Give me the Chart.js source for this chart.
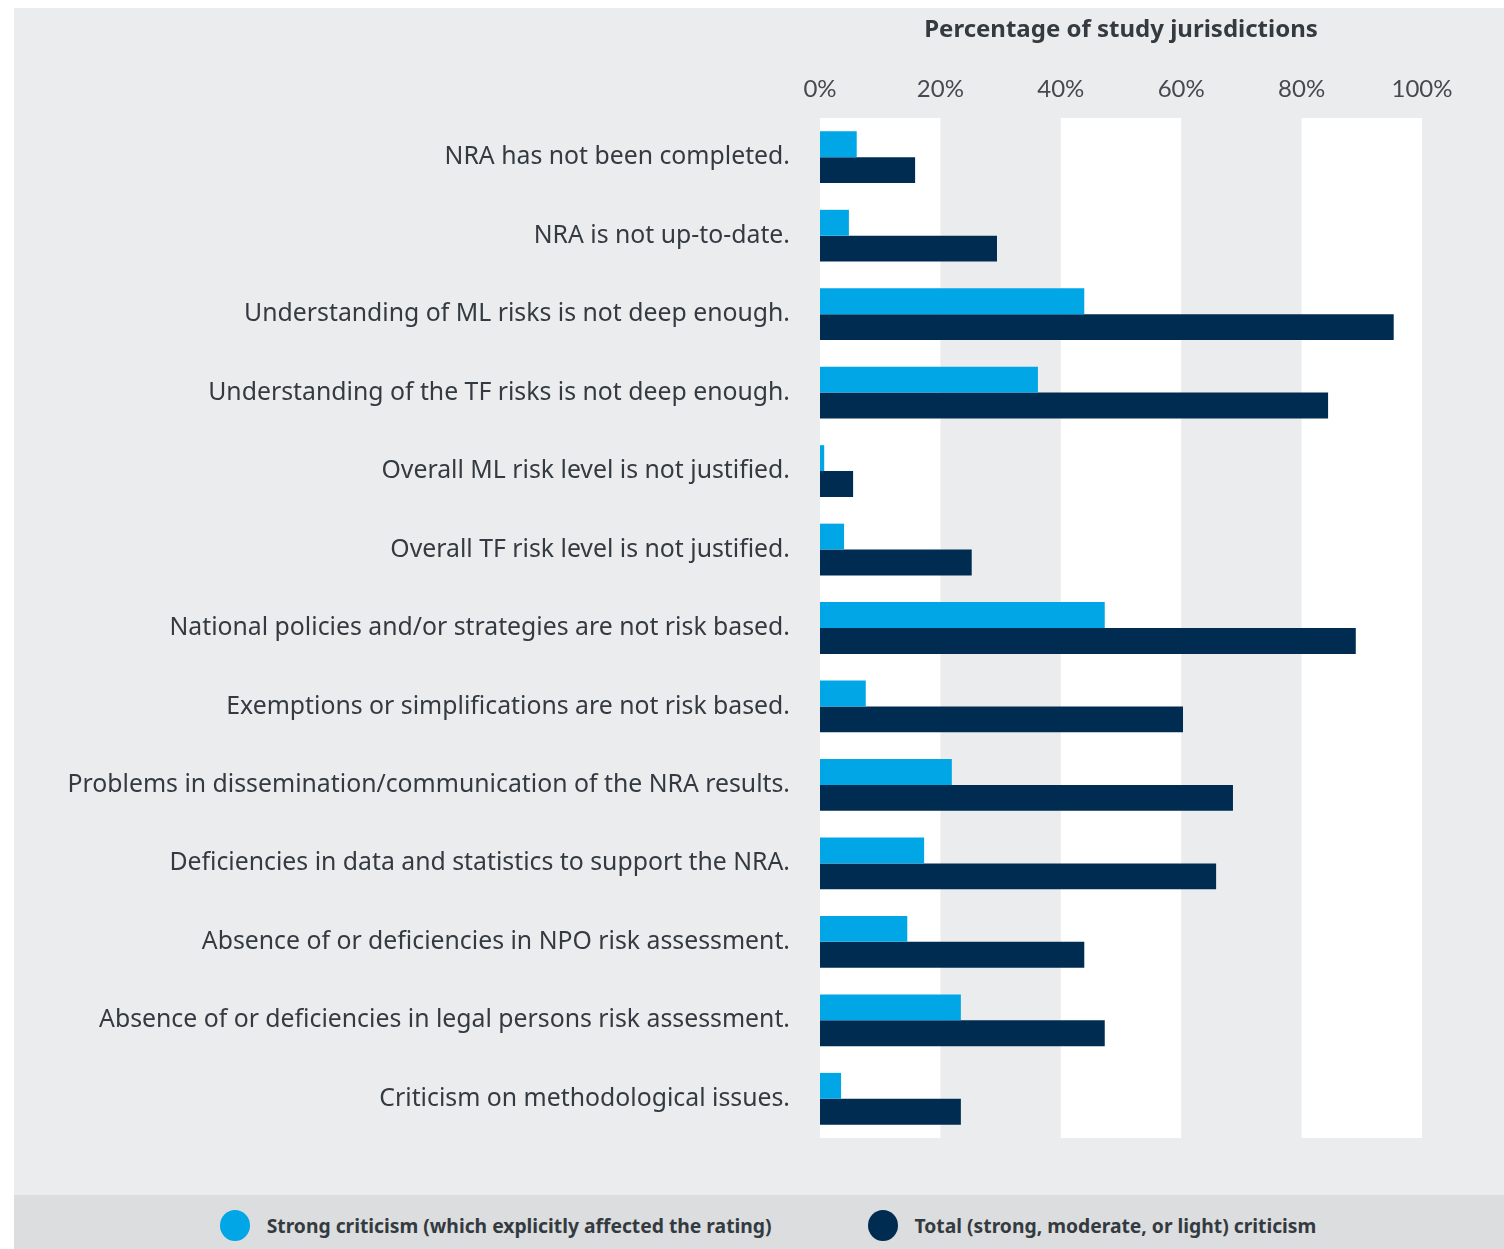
<!DOCTYPE html>
<html>
<head>
<meta charset="utf-8">
<script src="https://cdn.jsdelivr.net/npm/chart.js@4/dist/chart.umd.min.js"></script>
<style>
  html, body { margin: 0; padding: 0; background: #fff; }
  #wrap {
    position: absolute; left: 14px; top: 8px;
    width: 1490px; height: 1241px;
    background: #ebecee;
  }
  #box { position: relative; width: 1490px; height: 1187px; }
  #legend {
    position: absolute; left: 0; top: 1187px;
    width: 1490px; height: 54px; box-sizing: border-box; padding: 7px 0 0 18px;
    background: #dcdddf;
    display: flex; justify-content: center; align-items: center; gap: 96px;
    font-family: "Noto Sans", sans-serif; font-weight: 700; font-size: 19.3px;
    color: #333a40;
  }
  #legend span { display: flex; align-items: center; }
  #legend i {
    display: inline-block; width: 30px; height: 31px; border-radius: 50%;
    margin-right: 17px;
  }
</style>
</head>
<body>
<div id="wrap">
  <div id="box"><canvas id="chart"></canvas></div>
  <div id="legend"></div>
</div>
<script>
const categories = [
  'NRA has not been completed.',
  'NRA is not up-to-date.',
  'Understanding of ML risks is not deep enough.',
  'Understanding of the TF risks is not deep enough.',
  'Overall ML risk level is not justified.',
  'Overall TF risk level is not justified.',
  'National policies and/or strategies are not risk based.',
  'Exemptions or simplifications are not risk based.',
  'Problems in dissemination/communication of the NRA results.',
  'Deficiencies in data and statistics to support the NRA.',
  'Absence of or deficiencies in NPO risk assessment.',
  'Absence of or deficiencies in legal persons risk assessment.',
  'Criticism on methodological issues.'
];
const strongCriticism = [6.1, 4.8, 43.9, 36.2, 0.7, 4.0, 47.3, 7.6, 21.9, 17.3, 14.5, 23.4, 3.5];
const totalCriticism = [15.8, 29.4, 95.3, 84.4, 5.5, 25.2, 89.0, 60.3, 68.6, 65.8, 43.9, 47.3, 23.4];
const xTicks = [0, 20, 40, 60, 80, 100];
const seriesNames = ['Strong criticism (which explicitly affected the rating)', 'Total (strong, moderate, or light) criticism'];
const seriesColors = ['#00a6e6', '#002c51'];

// white columns behind every other 20% step
const bandPlugin = {
  id: 'bands',
  beforeDatasetsDraw(chart) {
    const { ctx, chartArea, scales } = chart;
    ctx.save();
    ctx.fillStyle = '#ffffff';
    for (let i = 0; i < xTicks.length - 1; i += 2) {
      const x0 = scales.x.getPixelForValue(xTicks[i]);
      const x1 = scales.x.getPixelForValue(xTicks[i + 1]);
      ctx.fillRect(x0, chartArea.top, x1 - x0, chartArea.bottom - chartArea.top);
    }
    ctx.restore();
  }
};

const legend = document.getElementById('legend');
seriesNames.forEach((name, i) => {
  const s = document.createElement('span');
  s.innerHTML = '<i style="background:' + seriesColors[i] + '"></i>' + name;
  legend.appendChild(s);
});

new Chart(document.getElementById('chart'), {
  type: 'bar',
  data: {
    labels: categories,
    datasets: [
      { label: seriesNames[0], data: strongCriticism, backgroundColor: seriesColors[0] },
      { label: seriesNames[1], data: totalCriticism, backgroundColor: seriesColors[1] }
    ]
  },
  options: {
    indexAxis: 'y',
    responsive: true,
    maintainAspectRatio: false,
    animation: false,
    categoryPercentage: 0.66,
    barPercentage: 1.0,
    layout: { padding: { left: 0, right: 82, top: 0, bottom: 57 } },
    plugins: { legend: { display: false }, tooltip: { enabled: false } },
    scales: {
      x: {
        position: 'top',
        min: 0,
        max: 100,
        afterBuildTicks: (scale) => { scale.ticks = xTicks.map(v => ({ value: v })); },
        afterFit: (scale) => { scale.height = 110; },
        grid: { display: false, drawTicks: false },
        border: { display: false },
        ticks: {
          padding: 14,
          color: '#454a50',
          font: { family: 'Lato', size: 24 },
          callback: (v) => v + '%'
        },
        title: {
          display: true,
          text: 'Percentage of study jurisdictions',
          color: '#333a40',
          font: { family: 'Noto Sans', size: 24, weight: 'bold' },
          padding: { top: 8, bottom: 12 }
        }
      },
      y: {
        afterFit: (scale) => { scale.width = 806; },
        grid: { display: false, drawTicks: false },
        border: { display: false },
        ticks: {
          padding: 30,
          color: '#333a40',
          font: { family: 'Noto Sans', size: 24.8 }
        }
      }
    }
  },
  plugins: [bandPlugin]
});
</script>
</body>
</html>
